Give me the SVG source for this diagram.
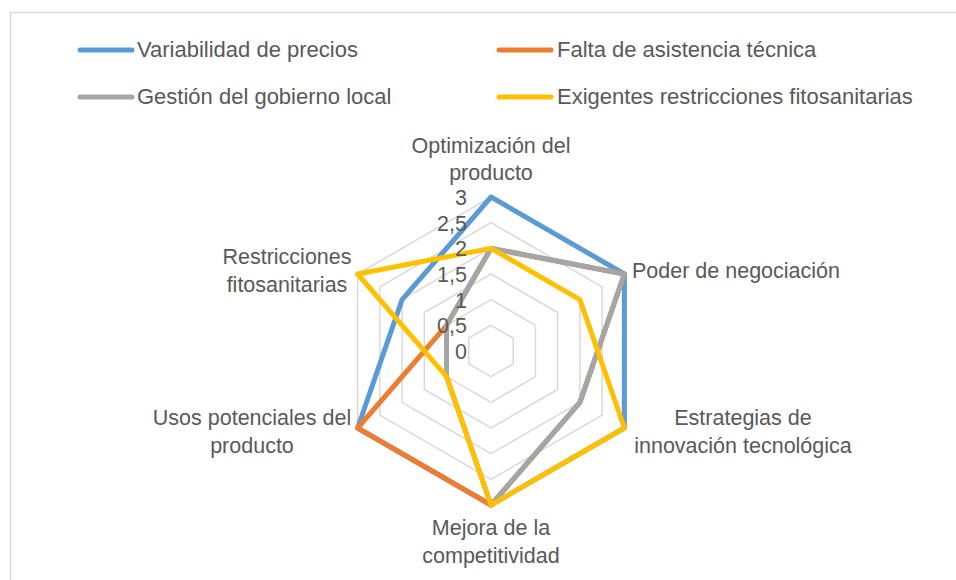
<svg xmlns="http://www.w3.org/2000/svg" width="956" height="580" viewBox="0 0 956 580">
<style>
text{font-family:"Liberation Sans",Arial,sans-serif;fill:#595959}
.lbl{font-size:21.5px}
.leg{font-size:22px}
.tick{font-size:21.5px;text-anchor:end}
.grid{fill:none;stroke:#d9d9d9;stroke-width:1.5}
.ser{fill:none;stroke-width:5;stroke-linejoin:round}
.legline{stroke-width:5;stroke-linecap:round}
</style>
<rect x="0" y="0" width="956" height="580" fill="#ffffff"/>
<path d="M10.5 590 V12.5 H970" fill="none" stroke="#d9d9d9" stroke-width="1.5"/>
<g id="legend">
<line class="legline" x1="80" y1="50" x2="132" y2="50" stroke="#5B9BD5"/>
<text class="leg" x="137" y="57">Variabilidad de precios</text>
<line class="legline" x1="499" y1="50" x2="551" y2="50" stroke="#ED7D31"/>
<text class="leg" x="557" y="57">Falta de asistencia técnica</text>
<line class="legline" x1="80" y1="97" x2="132" y2="97" stroke="#A5A5A5"/>
<text class="leg" x="137" y="104">Gestión del gobierno local</text>
<line class="legline" x1="499" y1="97" x2="551" y2="97" stroke="#FFC000"/>
<text class="leg" x="557" y="104">Exigentes restricciones fitosanitarias</text>
</g>
<g id="grid">
<polygon class="grid" points="491,325.33 513.23,338.17 513.23,363.83 491,376.67 468.77,363.83 468.77,338.17"/>
<polygon class="grid" points="491,299.67 535.46,325.33 535.46,376.67 491,402.33 446.54,376.67 446.54,325.33"/>
<polygon class="grid" points="491,274 557.68,312.5 557.68,389.5 491,428 424.32,389.5 424.32,312.5"/>
<polygon class="grid" points="491,248.33 579.91,299.67 579.91,402.33 491,453.67 402.09,402.33 402.09,299.67"/>
<polygon class="grid" points="491,222.67 602.14,286.83 602.14,415.17 491,479.33 379.86,415.17 379.86,286.83"/>
<polygon class="grid" points="491,197 624.37,274 624.37,428 491,505 357.63,428 357.63,274"/>
</g>
<g id="connectors">
<polygon id="s-variabilidad" class="ser" stroke="#5B9BD5" points="491,197 624.37,274 624.37,428 491,505 357.63,428 402.09,299.67"/>
<polygon id="s-falta" class="ser" stroke="#ED7D31" points="491,248.33 624.37,274 579.91,402.33 491,505 357.63,428 446.54,325.33"/>
<polygon id="s-gestion" class="ser" stroke="#A5A5A5" points="491,248.33 624.37,274 579.91,402.33 491,505 446.54,376.67 446.54,325.33"/>
<polygon id="s-exigentes" class="ser" stroke="#FFC000" points="491,248.33 579.91,299.67 624.37,428 491,505 446.54,376.67 357.63,274"/>
</g>
<g id="ticks">
<text class="tick" x="467" y="205">3</text>
<text class="tick" x="467" y="231">2,5</text>
<text class="tick" x="467" y="256">2</text>
<text class="tick" x="467" y="282">1,5</text>
<text class="tick" x="467" y="308">1</text>
<text class="tick" x="467" y="333">0,5</text>
<text class="tick" x="467" y="359">0</text>
</g>
<g id="axis-optimizacion"><text class="lbl" text-anchor="middle" x="491" y="153">Optimización del</text><text class="lbl" text-anchor="middle" x="491" y="180">producto</text></g>
<g id="axis-poder"><text class="lbl" x="632" y="278">Poder de negociación</text></g>
<g id="axis-estrategias"><text class="lbl" text-anchor="middle" x="743" y="425">Estrategias de</text><text class="lbl" text-anchor="middle" x="743" y="453">innovación tecnológica</text></g>
<g id="axis-mejora"><text class="lbl" text-anchor="middle" x="491" y="535">Mejora de la</text><text class="lbl" text-anchor="middle" x="491" y="563">competitividad</text></g>
<g id="axis-usos"><text class="lbl" text-anchor="middle" x="252" y="425">Usos potenciales del</text><text class="lbl" text-anchor="middle" x="252" y="453">producto</text></g>
<g id="axis-restricciones"><text class="lbl" text-anchor="middle" x="287" y="264">Restricciones</text><text class="lbl" text-anchor="middle" x="287" y="292">fitosanitarias</text></g>
</svg>
